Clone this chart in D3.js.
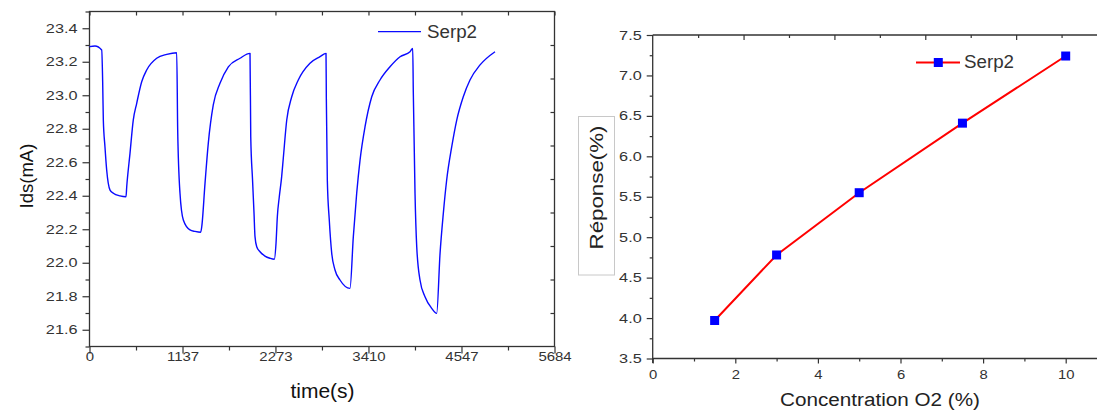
<!DOCTYPE html>
<html><head><meta charset="utf-8">
<script src="https://cdn.jsdelivr.net/npm/d3@7"></script>
<style>
body{margin:0;background:#fff}
svg{display:block;font-family:"Liberation Sans",Arial,sans-serif}
</style>
</head><body>
<svg id="c" width="1097" height="411"></svg>
<script>
// ---------- Left chart data: Ids (mA) versus time (s) ----------
const timeS = [0,67,149,161,169,189,210,251,291,373,446,
  455,495,535,577,638,699,821,944,1066,
  1078,1106,1147,1228,1290,1359,
  1372,1412,1452,1513,1595,1697,1840,1962,
  1971,1993,2011,2023,2044,2084,2145,2206,2259,
  2280,2296,2320,2349,2369,2411,2472,2552,2695,2818,2891,
  2895,2907,2931,2961,3001,3062,3184,
  3225,3266,3307,3368,3450,3551,3673,3796,3918,3951,
  3958,3979,4000,4040,4101,4183,4244,
  4285,4325,4366,4428,4489,4569,4651,4774,4957];
const idsMA = [23.290,23.294,23.270,23.081,22.852,22.693,22.554,22.434,22.415,22.399,22.394,
  22.454,22.653,22.852,22.952,23.081,23.151,23.221,23.244,23.254,
  22.793,22.416,22.255,22.196,22.187,22.182,
  22.215,22.474,22.713,22.942,23.071,23.170,23.221,23.250,
  22.753,22.494,22.295,22.156,22.096,22.066,22.040,22.027,22.021,
  22.116,22.275,22.394,22.514,22.625,22.852,22.991,23.091,23.191,23.230,23.250,
  22.982,22.494,22.255,22.056,21.957,21.897,21.847,
  22.156,22.415,22.613,22.812,22.991,23.091,23.170,23.230,23.260,23.280,
  23.021,22.415,22.096,21.897,21.797,21.728,21.698,
  22.056,22.295,22.494,22.693,22.852,22.991,23.091,23.181,23.260];
const timeTicks = [0,1137,2273,3410,4547,5684];
const idsTicks = [21.6,21.8,22.0,22.2,22.4,22.6,22.8,23.0,23.2,23.4];
const idsMinor = [21.5,21.7,21.9,22.1,22.3,22.5,22.7,22.9,23.1,23.3,23.5];

// ---------- Right chart data: response (%) versus O2 concentration (%) ----------
const concO2 = [1.5,3,5,7.5,10];
const reponse = [3.97,4.78,5.55,6.41,7.24];
const concTicks = [0,2,4,6,8,10];
const concMinor = [1,3,5,7,9];
const repTicks = [3.5,4.0,4.5,5.0,5.5,6.0,6.5,7.0,7.5];
const repMinor = [3.75,4.25,4.75,5.25,5.75,6.25,6.75,7.25];
const seriesName = "Serp2";

const svg = d3.select("#c");
const AX = "#333";
const TXT = "#333";

function styleAxis(g, fs){
  g.select(".domain").remove();
  g.selectAll(".tick line").attr("stroke", AX).attr("stroke-width", 1.2);
  g.selectAll(".tick text").attr("fill", TXT).attr("font-size", fs)
    .attr("font-family", '"Liberation Sans",Arial,sans-serif');
}
function stretch(g, k){
  g.selectAll(".tick text").each(function(){
    const w = this.getComputedTextLength();
    d3.select(this).attr("textLength", w*k).attr("lengthAdjust","spacingAndGlyphs");
  });
}

// ================= LEFT CHART =================
const xL = d3.scaleLinear().domain([0,5684]).range([89.5,554.5]);
const yL = d3.scaleLinear().domain([21.5,23.5]).range([346.5,11.5]);
const timeMinor = d3.pairs(timeTicks).map(p => (p[0]+p[1])/2);

// bottom axis
const gxL = svg.append("g").attr("transform","translate(0,346.5)")
  .call(d3.axisBottom(xL).tickValues(timeTicks).tickSize(7).tickPadding(-1.5).tickFormat(d3.format("d")));
styleAxis(gxL, 13); stretch(gxL, 1.15);
const gxLm = svg.append("g").attr("transform","translate(0,346.5)")
  .call(d3.axisBottom(xL).tickValues(timeMinor).tickSize(4).tickFormat(""));
styleAxis(gxLm, 13);
// top inner ticks
const gxLt = svg.append("g").attr("transform","translate(0,11.5)")
  .call(d3.axisBottom(xL).tickValues(timeTicks.concat(timeMinor)).tickSize(4).tickFormat(""));
styleAxis(gxLt, 13);
// left axis
const gyL = svg.append("g").attr("transform","translate(89.5,0)")
  .call(d3.axisLeft(yL).tickValues(idsTicks).tickSize(7).tickPadding(5).tickFormat(d3.format(".1f")));
styleAxis(gyL, 13); stretch(gyL, 1.25);
const gyLm = svg.append("g").attr("transform","translate(89.5,0)")
  .call(d3.axisLeft(yL).tickValues(idsMinor).tickSize(4).tickFormat(""));
styleAxis(gyLm, 13);
// right inner ticks
const gyLr = svg.append("g").attr("transform","translate(554.5,0)")
  .call(d3.axisRight(yL).tickValues(idsMinor.slice(1,-1)).tickSize(-4).tickFormat(""));
styleAxis(gyLr, 13);
// frame
svg.append("rect").attr("x",89.5).attr("y",11.5).attr("width",465).attr("height",335)
  .attr("fill","none").attr("stroke",AX).attr("stroke-width",1.3);

// curve
svg.append("path")
  .datum(timeS.map((t,i)=>[t,idsMA[i]]))
  .attr("fill","none").attr("stroke","#0a0aff").attr("stroke-width",1.4)
  .attr("stroke-linejoin","round")
  .attr("d", d3.line().curve(d3.curveMonotoneX).x(d=>xL(d[0])).y(d=>yL(d[1])));

// legend
svg.append("line").attr("x1",378).attr("x2",421).attr("y1",31.7).attr("y2",31.7)
  .attr("stroke","#0a0aff").attr("stroke-width",1.3);
svg.append("text").attr("x",427).attr("y",37.5).attr("font-size",17.5).attr("fill","#333")
  .attr("textLength",50).attr("lengthAdjust","spacingAndGlyphs").text(seriesName);

// axis titles
svg.append("text").attr("x",322.5).attr("y",398).attr("text-anchor","middle")
  .attr("font-size",21).attr("fill","#111").text("time(s)");
svg.append("text").attr("transform","translate(33,176) rotate(-90)").attr("text-anchor","middle")
  .attr("font-size",18.5).attr("fill","#111").text("Ids(mA)");

// ================= RIGHT CHART =================
const xR = d3.scaleLinear().domain([0,11]).range([652.7,1107]);
const xTop = d3.scaleLinear().domain([0,10]).range([652.7,1107]);
const yR = d3.scaleLinear().domain([3.5,7.5]).range([358.5,35]);

const gxR = svg.append("g").attr("transform","translate(0,358.5)")
  .call(d3.axisBottom(xR).tickValues(concTicks).tickSize(5).tickPadding(6).tickFormat(d3.format("d")));
styleAxis(gxR, 13.5); stretch(gxR, 1.1);
const gxRm = svg.append("g").attr("transform","translate(0,358.5)")
  .call(d3.axisBottom(xR).tickValues(concMinor).tickSize(3).tickFormat(""));
styleAxis(gxRm, 13);
const gxRt = svg.append("g").attr("transform","translate(0,35)")
  .call(d3.axisBottom(xTop).tickValues(concTicks.slice(1)).tickSize(5).tickFormat(""));
styleAxis(gxRt, 13);
const gxRtm = svg.append("g").attr("transform","translate(0,35)")
  .call(d3.axisBottom(xTop).tickValues(concMinor).tickSize(3).tickFormat(""));
styleAxis(gxRtm, 13);
const gyR = svg.append("g").attr("transform","translate(652.7,0)")
  .call(d3.axisLeft(yR).tickValues(repTicks).tickSize(6).tickPadding(5).tickFormat(d3.format(".1f")));
styleAxis(gyR, 12.5); stretch(gyR, 1.3);
const gyRm = svg.append("g").attr("transform","translate(652.7,0)")
  .call(d3.axisLeft(yR).tickValues(repMinor).tickSize(3).tickFormat(""));
styleAxis(gyRm, 13);
// axis lines
svg.append("line").attr("x1",652.7).attr("x2",652.7).attr("y1",35).attr("y2",363)
  .attr("stroke",AX).attr("stroke-width",1.3);
svg.append("line").attr("x1",652.7).attr("x2",1097).attr("y1",358.5).attr("y2",358.5)
  .attr("stroke",AX).attr("stroke-width",1.3);
svg.append("line").attr("x1",652.7).attr("x2",1097).attr("y1",35).attr("y2",35)
  .attr("stroke",AX).attr("stroke-width",1.3);

// series
svg.append("path").datum(concO2.map((c,i)=>[c,reponse[i]]))
  .attr("fill","none").attr("stroke","#ff0000").attr("stroke-width",2)
  .attr("d", d3.line().x(d=>xR(d[0])).y(d=>yR(d[1])));
svg.selectAll("rect.pt").data(concO2.map((c,i)=>[c,reponse[i]])).enter().append("rect")
  .attr("class","pt").attr("x",d=>xR(d[0])-4.5).attr("y",d=>yR(d[1])-4.5)
  .attr("width",9).attr("height",9).attr("fill","#0000ff");

// legend
svg.append("line").attr("x1",916).attr("x2",960).attr("y1",62.5).attr("y2",62.5)
  .attr("stroke","#ff0000").attr("stroke-width",2);
svg.append("rect").attr("x",933.8).attr("y",58).attr("width",9).attr("height",9).attr("fill","#0000ff");
svg.append("text").attr("x",964).attr("y",68.3).attr("font-size",17.5).attr("fill","#333")
  .attr("textLength",50).attr("lengthAdjust","spacingAndGlyphs").text(seriesName);

// axis titles
svg.append("rect").attr("x",578.5).attr("y",116.5).attr("width",36).attr("height",158.5)
  .attr("fill","none").attr("stroke","#c8c8c8").attr("stroke-width",1);
svg.append("text").attr("transform","translate(603,187.5) rotate(-90)").attr("text-anchor","middle")
  .attr("font-size",18).attr("fill","#222").attr("textLength",124).attr("lengthAdjust","spacingAndGlyphs")
  .text("Réponse(%)");
svg.append("text").attr("x",880).attr("y",406).attr("text-anchor","middle")
  .attr("font-size",18).attr("fill","#222").attr("textLength",200).attr("lengthAdjust","spacingAndGlyphs")
  .text("Concentration O2 (%)");
</script>
</body></html>
